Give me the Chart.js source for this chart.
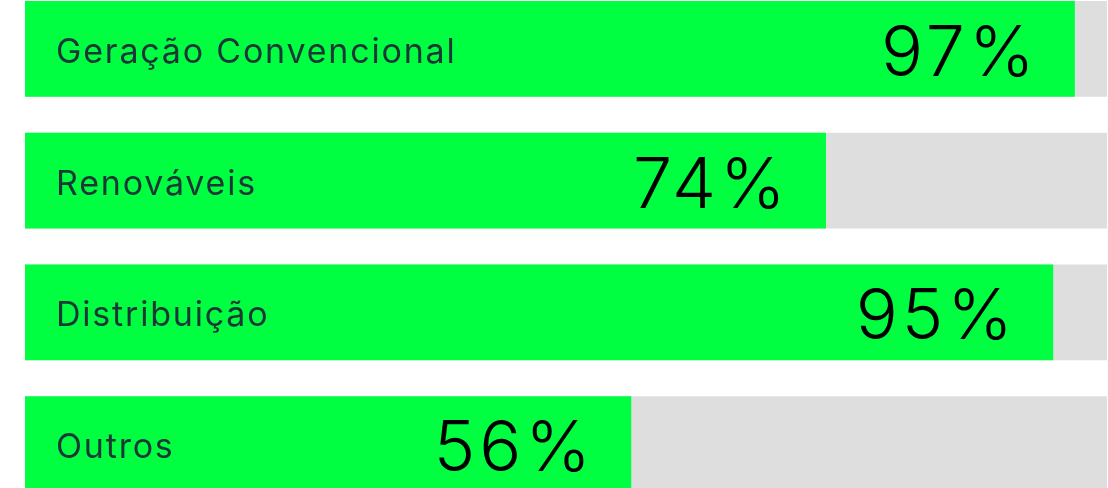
<!DOCTYPE html>
<html>
<head>
<meta charset="utf-8">
<script src="https://cdn.jsdelivr.net/npm/chart.js@4/dist/chart.umd.min.js"></script>
<style>
  html, body { margin: 0; padding: 0; background: #fff; overflow: hidden; }
  body { width: 1108px; height: 488px; position: relative; }
  #wrap { position: absolute; left: 25px; top: -17px; width: 1082px; height: 527px; }
</style>
</head>
<body>
<div id="wrap"><canvas id="segmentsChart"></canvas></div>
<script>
// Share of each business segment
const segments = ['Geração Convencional', 'Renováveis', 'Distribuição', 'Outros'];
const shares = [97, 74, 95, 56];
const fullTrack = [100, 100, 100, 100];

const GREEN = '#00ff41';
const TRACK = '#dedede';

// Segment name at the left of each bar, percentage near the end of the green part
const barLabels = {
  id: 'barLabels',
  afterDatasetsDraw(chart) {
    const ctx = chart.ctx;
    const meta = chart.getDatasetMeta(1);
    const left = chart.chartArea.left;
    ctx.save();
    ctx.textBaseline = 'alphabetic';
    meta.data.forEach((bar, i) => {
      ctx.textAlign = 'left';
      ctx.fillStyle = '#1d3636';
      ctx.font = '400 34px Inter, "Noto Sans", sans-serif';
      ctx.letterSpacing = '1.8px';
      ctx.fillText(chart.data.labels[i], left + 31, bar.y + 14);

      ctx.textAlign = 'right';
      ctx.fillStyle = '#000';
      ctx.font = '300 70px Inter, "Noto Sans", sans-serif';
      ctx.letterSpacing = '4px';
      ctx.fillText(shares[i] + '%', bar.x - 36, bar.y + 27);
    });
    ctx.restore();
  }
};

new Chart(document.getElementById('segmentsChart'), {
  type: 'bar',
  data: {
    labels: segments,
    datasets: [
      {
        data: fullTrack,
        backgroundColor: TRACK,
        grouped: false,
        order: 2,
        barThickness: 95
      },
      {
        data: shares,
        backgroundColor: GREEN,
        grouped: false,
        order: 1,
        barThickness: 95
      }
    ]
  },
  options: {
    indexAxis: 'y',
    responsive: true,
    maintainAspectRatio: false,
    animation: false,
    layout: { padding: 0 },
    plugins: {
      legend: { display: false },
      tooltip: { enabled: false }
    },
    scales: {
      x: { display: false, min: 0, max: 100 },
      y: { display: false }
    }
  },
  plugins: [barLabels]
});
</script>
</body>
</html>
